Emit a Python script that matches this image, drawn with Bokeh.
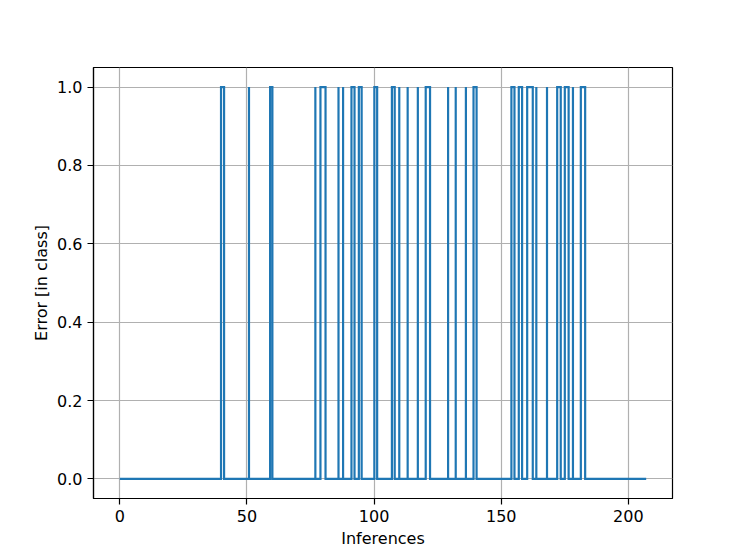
from bokeh.plotting import figure
from bokeh.models import Range1d, FixedTicker
from bokeh.embed import file_html
from bokeh.resources import INLINE

# Data: inference span and the intervals where the
# class error is 1 (start == end for a single, hairline error spike)
first_inference = 0
last_inference = 207
error_start = [39.8, 50.8, 59.1, 76.9, 78.9, 86.0, 87.8, 91.1, 94.0, 100.1,
               107.0, 109.9, 113.2, 117.2, 120.3, 129.1, 132.1, 136.1, 139.1,
               154.0, 156.9, 160.2, 163.8, 168.0, 172.0, 175.0, 178.2, 181.3]
error_end = [41.0, 50.8, 60.0, 76.9, 80.9, 86.0, 87.8, 92.3, 95.1, 101.2,
             108.1, 109.9, 113.2, 117.2, 122.0, 129.1, 132.1, 136.1, 140.3,
             155.2, 158.2, 162.4, 163.8, 168.0, 173.4, 176.5, 178.2, 183.0]

x_ticks = [0, 50, 100, 150, 200]
y_ticks = [0.0, 0.2, 0.4, 0.6, 0.8, 1.0]
y_tick_labels = {0.0: "0.0", 0.2: "0.2", 0.4: "0.4", 0.6: "0.6", 0.8: "0.8", 1.0: "1.0"}

# build the step outline from the intervals
xs = [first_inference]
ys = [0]
for s, e in zip(error_start, error_end):
    xs += [s, s, e, e]
    ys += [0, 1, 1, 0]
xs.append(last_inference)
ys.append(0)

span = last_inference - first_inference
p = figure(width=745, height=558, output_backend="svg", toolbar_location=None,
           x_range=Range1d(first_inference - 0.05 * span, last_inference + 0.05 * span),
           y_range=Range1d(-0.05, 1.05))
p.min_border_left = 93
p.min_border_right = 73
p.min_border_top = 67
p.min_border_bottom = 60

p.line(xs, ys, line_color="#1f77b4", line_width=2.2, line_join="miter")

p.outline_line_color = "black"
p.outline_line_width = 1.2
p.background_fill_color = "white"
p.border_fill_color = "white"

for ax in (p.xaxis[0], p.yaxis[0]):
    ax.axis_line_color = "black"
    ax.axis_line_width = 1.2
    ax.major_tick_line_color = "black"
    ax.major_tick_line_width = 1.2
    ax.major_tick_out = 6
    ax.major_tick_in = 0
    ax.minor_tick_line_color = None
    ax.major_label_text_font = "DejaVu Sans"
    ax.major_label_text_font_size = "16px"
    ax.major_label_text_color = "black"
    ax.major_label_standoff = 5
    ax.axis_label_text_font = "DejaVu Sans"
    ax.axis_label_text_font_size = "16px"
    ax.axis_label_text_font_style = "normal"
    ax.axis_label_text_color = "black"

p.xaxis.ticker = FixedTicker(ticks=x_ticks)
p.yaxis.ticker = FixedTicker(ticks=y_ticks)
p.yaxis.major_label_overrides = y_tick_labels
p.xaxis.axis_label = "Inferences"
p.yaxis.axis_label = "Error [in class]"
p.xaxis.axis_label_standoff = 4
p.yaxis.axis_label_standoff = 3

p.xgrid.ticker = FixedTicker(ticks=x_ticks)
p.ygrid.ticker = FixedTicker(ticks=y_ticks)
for g in (p.xgrid[0], p.ygrid[0]):
    g.grid_line_color = "#b0b0b0"
    g.grid_line_width = 1.2

open("out.html", "w").write(file_html(p, INLINE))
